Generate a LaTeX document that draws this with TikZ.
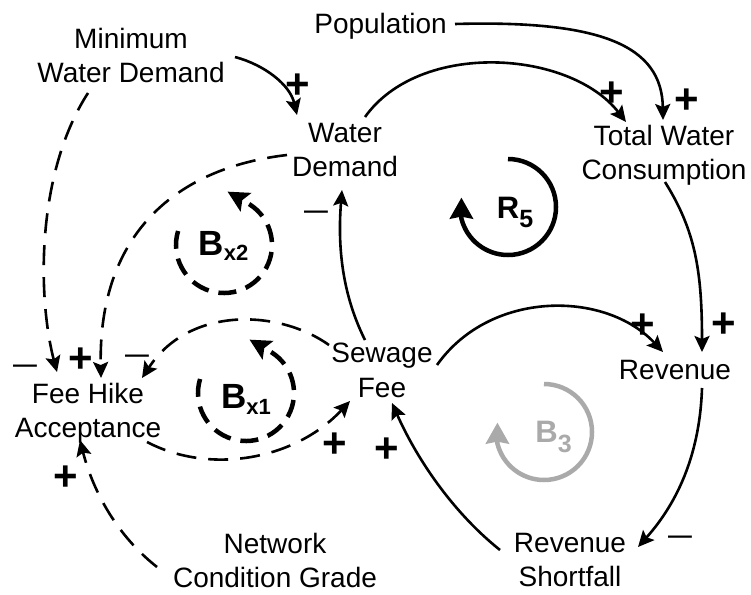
\documentclass[tikz,border=0pt]{standalone}
\usepackage{fontspec}
\setmainfont{Liberation Sans}
\usetikzlibrary{arrows.meta}
\definecolor{loopgray}{RGB}{170,170,170}

\begin{document}
\begin{tikzpicture}[x=1pt,y=-1pt,
  var/.style={align=center,inner sep=0pt,anchor=north,font=\fontsize{28}{34.5}\selectfont},
  cx/.style={line width=2.6pt,-{Stealth[length=16pt,width=15pt,inset=3pt]}},
  dcx/.style={cx,dash pattern=on 20pt off 12pt},
  possign/.style={inner sep=0pt,anchor=base,font=\fontsize{42}{42}\selectfont\bfseries},
  negsign/.style={inner sep=0pt,anchor=base,font=\fontsize{33}{33}\selectfont},
  loopsolid/.style={line width=4.5pt,-{Stealth[length=21pt,width=23pt,inset=2pt]}},
  loopdash/.style={line width=4.5pt,dash pattern=on 18pt off 10pt,-{Stealth[length=21pt,width=21pt,inset=4pt]}},
  looplbl/.style={inner sep=0pt,anchor=base,font=\bfseries}
]
\useasboundingbox (0,0) rectangle (751,594);

% variables
\node[var] (pop) at (380.5,13) {Population};
\node[var] (mwd) at (131,28) {Minimum\\Water Demand};
\node[var] (wd)  at (345,123) {Water\\Demand};
\node[var] (twc) at (664,125) {Total Water\\Consumption};
\node[var] (sf)  at (382,343) {Sewage\\Fee};
\node[var] (rev) at (675,360) {Revenue};
\node[var] (rs)  at (570,533) {Revenue\\Shortfall};
\node[var] (fha) at (88,383) {Fee Hike\\Acceptance};
\node[var] (ncg) at (275,533) {Network\\Condition Grade};

% solid causal links
\draw[cx] ([shift={(74.5,11)}]pop.north) .. controls (600,20) and (662,45) .. ([shift={(-1,-5)}]twc.north);
\draw[cx] ([shift={(20,-6)}]wd.north) .. controls (420,40) and (570,50) .. ([shift={(-38,-3)}]twc.north);
\draw[cx] ([shift={(104,29)}]mwd.north) .. controls (265,65) and (290,85) .. ([shift={(-48,-8)}]wd.north);
\draw[cx] ([shift={(-17,-3)}]sf.north) .. controls (340,290) and (338,240) .. ([shift={(-3,67)}]wd.north);
\draw[cx] ([shift={(55,22)}]sf.north) .. controls (490,290) and (605,290) .. ([shift={(-12,-8)}]rev.north);
\draw[cx] ([shift={(1,57)}]twc.north) .. controls (695,230) and (702,270) .. ([shift={(27,-8)}]rev.north);
\draw[cx] ([shift={(27,28)}]rev.north) .. controls (700,450) and (680,500) .. ([shift={(68,14)}]rs.north);
\draw[cx] ([shift={(-70,17)}]rs.north) .. controls (450,510) and (415,455) .. ([shift={(10,60)}]sf.north);

% dashed causal links
\draw[dcx] ([shift={(-43,65)}]mwd.north) .. controls (35,175) and (38,300) .. ([shift={(-31,-11)}]fha.north);
\draw[dcx] ([shift={(-58,32)}]wd.north) .. controls (175,168) and (98,235) .. ([shift={(13,-5)}]fha.north);
\draw[dcx] ([shift={(-53,2)}]sf.north) .. controls (280,310) and (190,305) .. ([shift={(54,-5)}]fha.north);
\draw[dcx] ([shift={(59,59)}]fha.north) .. controls (210,475) and (295,460) .. ([shift={(-32,58)}]sf.north);
\draw[dcx] ([shift={(-118,34)}]ncg.north) .. controls (110,530) and (90,480) .. ([shift={(-8,57)}]fha.north);

% polarities
\node[possign] (p1) at (612,106) {+};
\node[possign] (p2) at (687,113) {+};
\node[possign] (p3) at (298,98) {+};
\node[possign] (p4) at (81,372) {+};
\node[possign] (p5) at (335,457) {+};
\node[possign] (p6) at (66,490) {+};
\node[possign] (p7) at (643,338) {+};
\node[possign] (p8) at (724,337) {+};
\node[possign] (p9) at (387,462) {+};
\node[negsign] (m1) at (25,374) {\scalebox{1.3}[1]{–}};
\node[negsign] (m2) at (137,364) {\scalebox{1.3}[1]{–}};
\node[negsign] (m3) at (316,220) {\scalebox{1.3}[1]{–}};
\node[negsign] (m4) at (680,545) {\scalebox{1.3}[1]{–}};

% loop markers
\coordinate (r5c) at (508,207);
\draw[loopsolid] ([shift={(0,-48)}]r5c) arc[start angle=-90, end angle=166, radius=48] -- ++(0,-21);
\node[looplbl] (r5) at (515,218) {{\fontsize{31}{31}\selectfont R}\raisebox{-9pt}{\fontsize{25}{25}\selectfont 5}};

\coordinate (b3c) at (544,432);
\draw[loopsolid,draw=loopgray,color=loopgray] ([shift={(0,-48)}]b3c) arc[start angle=-90, end angle=166, radius=48] -- ++(0,-21);
\node[looplbl,text=loopgray] (b3) at (553.5,442) {{\fontsize{31}{31}\selectfont B}\raisebox{-10pt}{\fontsize{25}{25}\selectfont 3}};

\coordinate (bx2c) at (224,245);
\draw[loopdash] ([shift={(-163:48)}]bx2c) arc[start angle=-163, end angle=-422, radius=48] -- ++(-19,-11);
\node[looplbl] (bx2) at (223.5,255) {{\fontsize{35}{35}\selectfont B}\raisebox{-5pt}{\fontsize{22}{22}\selectfont x2}};

\coordinate (bx1c) at (246,393);
\draw[loopdash] ([shift={(-163:48)}]bx1c) arc[start angle=-163, end angle=-422, radius=48] -- ++(-19,-11);
\node[looplbl] (bx1) at (246,408) {{\fontsize{35}{35}\selectfont B}\raisebox{-6pt}{\fontsize{22}{22}\selectfont x1}};
\end{tikzpicture}
\end{document}
